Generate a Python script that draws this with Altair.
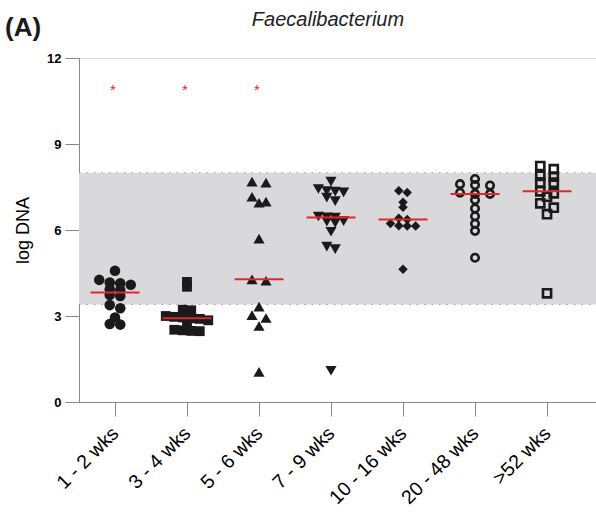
import altair as alt
import numpy as np
import pandas as pd

# Age groups on the x axis
groups = ["1 - 2 wks", "3 - 4 wks", "5 - 6 wks", "7 - 9 wks",
          "10 - 16 wks", "20 - 48 wks", ">52 wks"]

# log DNA per sample, one list per age group
wk_1_2 = [4.58, 4.17, 4.09, 4.26, 4.14, 3.91, 3.93, 3.70, 3.73, 3.27, 3.38, 2.95, 2.70, 2.72]
wk_3_4 = [4.19, 4.02, 3.22, 3.20, 3.00, 2.97, 2.95, 2.92, 2.90, 2.85, 2.80, 2.52, 2.50, 2.48, 2.47]
wk_5_6 = [7.65, 7.69, 7.16, 6.95, 6.99, 5.70, 4.23, 4.28, 3.33, 2.93, 3.03, 2.65, 1.05]
wk_7_9 = [7.69, 7.43, 7.36, 7.34, 7.31, 7.13, 7.01, 6.47, 6.44, 6.43, 6.31, 6.29, 6.25,
          5.94, 5.42, 5.33, 1.09]
wk_10_16 = [7.37, 7.31, 6.97, 6.79, 6.41, 6.37, 6.23, 6.15, 6.14, 6.14, 4.63]
wk_20_48 = [7.78, 7.60, 7.57, 7.55, 7.30, 7.26, 7.26, 7.05, 6.75, 6.48, 6.22, 5.97, 5.03]
wk_52_plus = [8.23, 8.12, 7.89, 7.86, 7.66, 7.65, 7.35, 7.28, 7.16, 6.93, 6.78, 6.55, 3.79]

series = [wk_1_2, wk_3_4, wk_5_6, wk_7_9, wk_10_16, wk_20_48, wk_52_plus]

# groups flagged as significantly different
significant = [True, True, True, False, False, False, False]
star_level = 10.95

# shaded reference range
range_low = [3.4]
range_high = [8.0]

y_ticks = [0, 3, 6, 9, 12]

# ---- layout / style ----
W, H = 517, 344
X_DOMAIN = [-0.5, 6.68]
Y_DOMAIN = [0, 12]
px_per_x = W / (X_DOMAIN[1] - X_DOMAIN[0])
INK = "#1a1a1a"
RED = "#e3262b"
FONT = "Liberation Sans"

# marker style and column-scatter slot width (px) for each group
styles = [
    dict(shape="circle", filled=True, size=112, slot=10.5),
    dict(shape="square", filled=True, size=96, slot=8.5),
    dict(shape="triangle-up", filled=True, size=125, slot=14.0),
    dict(shape="triangle-down", filled=True, size=125, slot=8.4),
    dict(shape="diamond", filled=True, size=90, slot=8.4),
    dict(shape="circle", filled=False, size=56, stroke=2.6, slot=15.0),
    dict(shape="square", filled=False, size=66, stroke=2.6, slot=13.5),
]

ROW_HEIGHT = 0.17  # values closer than this share a row in the column scatter


def column_scatter(values, slot):
    """Group values into rows and spread each row symmetrically about the centre."""
    order = sorted(range(len(values)), key=lambda k: -values[k])
    rows, top = [], None
    for i in order:
        if top is None or values[i] < top - ROW_HEIGHT:
            rows.append([i])
            top = values[i]
        else:
            rows[-1].append(i)
    offsets = [0.0] * len(values)
    for row in rows:
        n = len(row)
        for j, i in enumerate(row):
            offsets[i] = (j - (n - 1) / 2) * slot
    return offsets


x_scale = alt.Scale(domain=X_DOMAIN, nice=False, zero=False)
y_scale = alt.Scale(domain=Y_DOMAIN, nice=False)

label_expr = "[" + ",".join("'%s'" % g for g in groups) + "][datum.value]"

x_axis = alt.Axis(values=list(range(len(groups))), labelExpr=label_expr, title=None,
                  labelAngle=-45, labelAlign="right", labelBaseline="middle",
                  labelFontSize=19.5, labelPadding=14, labelOverlap=False,
                  grid=False, tickSize=14)
y_axis = alt.Axis(values=y_ticks, title="log DNA", grid=False, tickSize=14,
                  labelFontWeight="bold", labelFontSize=13, labelPadding=4,
                  titleFontSize=18, titleFontWeight="normal", titlePadding=14)

band_df = pd.DataFrame({"lo": range_low, "hi": range_high})
band = alt.Chart(band_df).mark_rect(color="#d9d9db").encode(
    x=alt.value(0), x2=alt.value("width"),
    y=alt.Y("lo:Q", scale=y_scale, axis=y_axis), y2="hi:Q")

edge_df = pd.DataFrame({"v": range_low + range_high})
edges = alt.Chart(edge_df).mark_rule(color="#a0a0a0", strokeWidth=1, strokeDash=[1.5, 6]).encode(
    x=alt.value(0), x2=alt.value("width"), y=alt.Y("v:Q", scale=y_scale))

layers = [band, edges]
med_rows = []
for gi, (vals, st) in enumerate(zip(series, styles)):
    offs = column_scatter(vals, st["slot"])
    df = pd.DataFrame({"x": [gi + o / px_per_x for o in offs], "y": vals})
    kw = dict(shape=st["shape"], filled=st["filled"], size=st["size"], color=INK, opacity=1)
    kw["strokeWidth"] = st.get("stroke", 0)
    pts = alt.Chart(df).mark_point(**kw).encode(
        x=alt.X("x:Q", scale=x_scale, axis=x_axis),
        y=alt.Y("y:Q", scale=y_scale, axis=y_axis))
    layers.append(pts)
    med_rows.append({"lo": gi - 0.34, "hi": gi + 0.34, "med": float(np.median(vals))})

med_df = pd.DataFrame(med_rows)
medians = alt.Chart(med_df).mark_rule(color=RED, strokeWidth=2).encode(
    x=alt.X("lo:Q", scale=x_scale), x2="hi:Q", y=alt.Y("med:Q", scale=y_scale))
layers.append(medians)

star_df = pd.DataFrame({"x": [i for i, s in enumerate(significant) if s],
                        "y": [star_level for s in significant if s]})
stars = alt.Chart(star_df).mark_text(text="*", color=RED, fontSize=15, font=FONT,
                                     baseline="alphabetic", dy=7, dx=-2).encode(
    x=alt.X("x:Q", scale=x_scale), y=alt.Y("y:Q", scale=y_scale))
layers.append(stars)

# panel letter and italic genus heading above the plot
heading = alt.Chart(pd.DataFrame({"t": ["Faecalibacterium"]})).mark_text(
    fontSize=20, fontStyle="italic", font=FONT, align="center", baseline="alphabetic",
    color="#222").encode(text="t:N", x=alt.value(249), y=alt.value(-32))
layers.append(heading)

panel = alt.Chart(pd.DataFrame({"t": ["(A)"]})).mark_text(
    fontSize=26, fontWeight="bold", font=FONT, align="left", baseline="alphabetic",
    color=INK).encode(text="t:N", x=alt.value(-74), y=alt.value(-22))
layers.append(panel)

chart = alt.layer(*layers).properties(
    width=W, height=H,
    autosize=alt.AutoSizeParams(type="none"),
    padding={"left": 79, "top": 58, "right": 0, "bottom": 118},
).configure_view(stroke=None).configure_axis(
    domainColor=INK, domainWidth=1.6, tickColor=INK, tickWidth=1.6,
    labelColor=INK, titleColor=INK, labelFont=FONT, titleFont=FONT,
).configure(background="white")

chart.save("out.html", embed_options={"renderer": "svg", "actions": False})
